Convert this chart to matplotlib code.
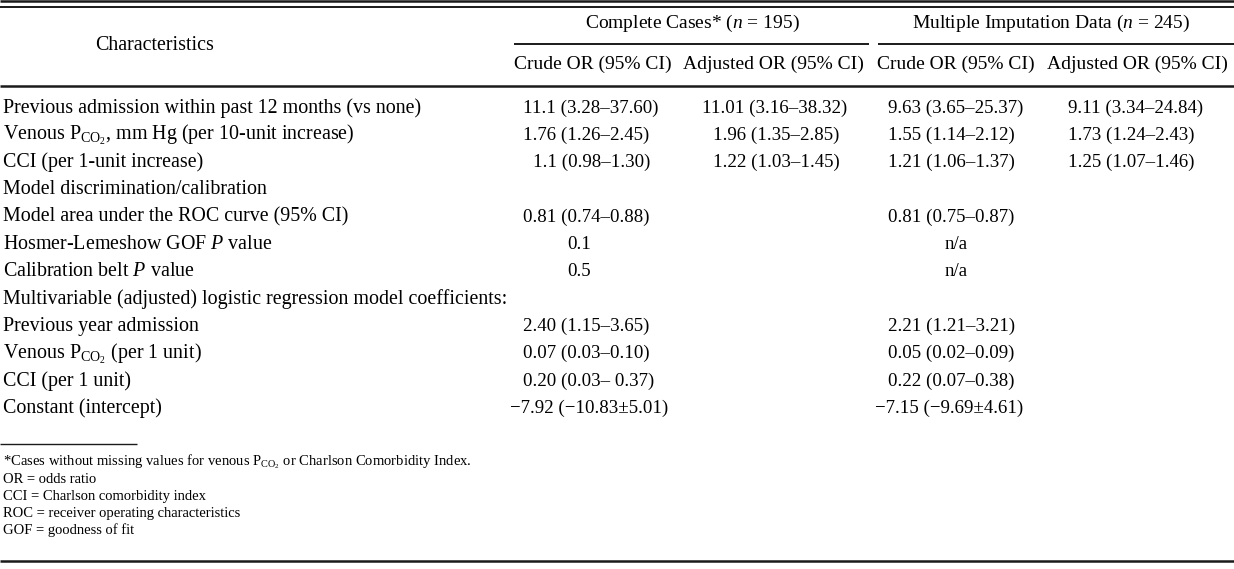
import matplotlib
matplotlib.use("Agg")
import matplotlib.pyplot as plt

plt.rcParams['font.family'] = ['Liberation Serif', 'DejaVu Serif']
plt.rcParams['mathtext.fontset'] = 'custom'
plt.rcParams['mathtext.rm'] = 'Liberation Serif'
plt.rcParams['mathtext.it'] = 'Liberation Serif:italic'
plt.rcParams['mathtext.bf'] = 'Liberation Serif:bold'

PCO2 = r'$\mathrm{P}_{\mathrm{CO}_2}$'

groups = [r'Complete Cases* ($n$ = 195)', r'Multiple Imputation Data ($n$ = 245)']
subheads = ['Crude OR (95% CI)', 'Adjusted OR (95% CI)',
            'Crude OR (95% CI)', 'Adjusted OR (95% CI)']

rows = [
    'Previous admission within past 12 months (vs none)',
    'Venous ' + PCO2 + ', mm Hg (per 10-unit increase)',
    'CCI (per 1-unit increase)',
    'Model discrimination/calibration',
    'Model area under the ROC curve (95% CI)',
    r'Hosmer-Lemeshow GOF $P$ value',
    r'Calibration belt $P$ value',
    'Multivariable (adjusted) logistic regression model coefficients:',
    'Previous year admission',
    'Venous ' + PCO2 + ' (per 1 unit)',
    'CCI (per 1 unit)',
    'Constant (intercept)',
]

cc_crude = ['11.1 (3.28–37.60)', '1.76 (1.26–2.45)', '1.1 (0.98–1.30)', '',
            '0.81 (0.74–0.88)', '0.1', '0.5', '',
            '2.40 (1.15–3.65)', '0.07 (0.03–0.10)', '0.20 (0.03– 0.37)',
            '−7.92 (−10.83±5.01)']
cc_adj = ['11.01 (3.16–38.32)', '1.96 (1.35–2.85)', '1.22 (1.03–1.45)', '',
          '', '', '', '', '', '', '', '']
mi_crude = ['9.63 (3.65–25.37)', '1.55 (1.14–2.12)', '1.21 (1.06–1.37)', '',
            '0.81 (0.75–0.87)', 'n/a', 'n/a', '',
            '2.21 (1.21–3.21)', '0.05 (0.02–0.09)', '0.22 (0.07–0.38)',
            '−7.15 (−9.69±4.61)']
mi_adj = ['9.11 (3.34–24.84)', '1.73 (1.24–2.43)', '1.25 (1.07–1.46)', '',
          '', '', '', '', '', '', '', '']

footnotes = [
    '*Cases without missing values for venous ' + PCO2 + ' or Charlson Comorbidity Index.',
    'OR = odds ratio',
    'CCI = Charlson comorbidity index',
    'ROC = receiver operating characteristics',
    'GOF = goodness of fit',
]

W, H = 1234, 569
fig = plt.figure(figsize=(W / 100, H / 100), dpi=100)
ax = fig.add_axes([0, 0, 1, 1])
ax.set_xlim(0, W)
ax.set_ylim(H, 0)
ax.axis('off')

lc = '#1a1a1a'
fs = 14
fs_lab = 14.4
fs_num = 13.6

# rules
ax.hlines(1.2, 0, W, color=lc, lw=1.8)
ax.hlines(7, 0, W, color=lc, lw=1.4)
ax.hlines(44, 514, 869, color=lc, lw=1.4)
ax.hlines(44, 878, W, color=lc, lw=1.4)
ax.hlines(86, 0, W, color=lc, lw=1.8)
ax.hlines(444, 0, 137, color=lc, lw=1.0)
ax.hlines(561, 0, W, color=lc, lw=1.8)

# header
ax.text(155, 45, 'Characteristics', fontsize=fs_lab, ha='center', va='center')
ax.text(692, 23, groups[0], fontsize=fs, ha='center', va='center')
ax.text(1051, 23, groups[1], fontsize=fs, ha='center', va='center')
for xc, s in zip([593, 773, 956, 1137], subheads):
    ax.text(xc, 64, s, fontsize=fs, ha='center', va='center')

# body
y0, dy = 108, 27.3
col_left = [523, 702, 888, 1068]
for i, lab in enumerate(rows):
    y = y0 + i * dy
    ax.text(3, y, lab, fontsize=fs_lab, ha='left', va='center')
    for j, col in enumerate([cc_crude, cc_adj, mi_crude, mi_adj]):
        s = col[i]
        if not s:
            continue
        x = col_left[j]
        ha = 'left'
        if s in ('0.1', '0.5'):
            x, ha = 579, 'center'
        elif s == 'n/a':
            x, ha = 956, 'center'
        elif j == 0 and s.startswith('1.1 '):
            x = 533
        elif j == 1 and not s.startswith('11'):
            x = 713
        elif s.startswith('−'):
            x -= 13
        ax.text(x, y, s, fontsize=fs_num, ha=ha, va='center')

# footnotes
for k, s in enumerate(footnotes):
    ax.text(3, 462 + k * 17, s, fontsize=10.5, ha='left', va='center')

fig.savefig('out.png', dpi=100)
